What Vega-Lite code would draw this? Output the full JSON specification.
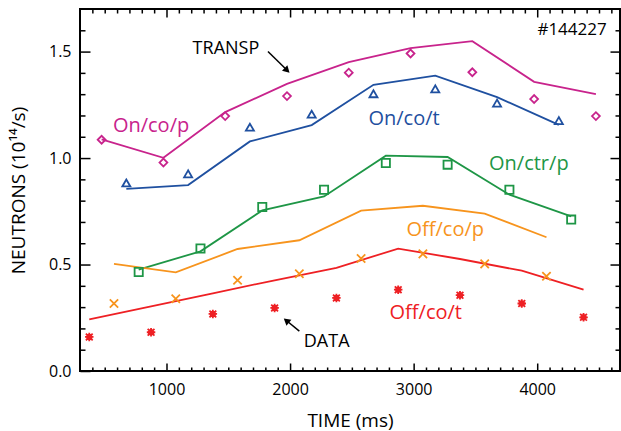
{
  "$schema": "https://vega.github.io/schema/vega-lite/v6.json",
  "width": 540,
  "height": 362,
  "autosize": "none",
  "padding": {"left": 80, "top": 9, "right": 1, "bottom": 60},
  "background": "white",
  "config": {
    "view": {"stroke": "black", "strokeWidth": 2},
    "font": "Open Sans",
    "axis": {
      "labelFont": "Open Sans", "labelFontSize": 16, "labelColor": "black",
      "titleFont": "Open Sans", "titleFontSize": 19, "titleFontWeight": "normal", "titleColor": "black",
      "domain": false, "grid": false, "ticks": true, "tickRound": false, "tickColor": "black", "tickWidth": 1.5
    }
  },
  "datasets": {
    "transp": [
      {"series": "On/co/p", "time": 475, "n": 1.088}, {"series": "On/co/p", "time": 975, "n": 1.001}, {"series": "On/co/p", "time": 1475, "n": 1.216}, {"series": "On/co/p", "time": 1975, "n": 1.348}, {"series": "On/co/p", "time": 2475, "n": 1.450}, {"series": "On/co/p", "time": 2975, "n": 1.516}, {"series": "On/co/p", "time": 3475, "n": 1.549}, {"series": "On/co/p", "time": 3975, "n": 1.358}, {"series": "On/co/p", "time": 4475, "n": 1.300},
      {"series": "On/co/t", "time": 675, "n": 0.855}, {"series": "On/co/t", "time": 1175, "n": 0.873}, {"series": "On/co/t", "time": 1675, "n": 1.078}, {"series": "On/co/t", "time": 2175, "n": 1.155}, {"series": "On/co/t", "time": 2675, "n": 1.344}, {"series": "On/co/t", "time": 3175, "n": 1.387}, {"series": "On/co/t", "time": 3675, "n": 1.286}, {"series": "On/co/t", "time": 4175, "n": 1.156},
      {"series": "On/ctr/p", "time": 775, "n": 0.476}, {"series": "On/ctr/p", "time": 1275, "n": 0.562}, {"series": "On/ctr/p", "time": 1775, "n": 0.754}, {"series": "On/ctr/p", "time": 2275, "n": 0.820}, {"series": "On/ctr/p", "time": 2775, "n": 1.011}, {"series": "On/ctr/p", "time": 3275, "n": 1.005}, {"series": "On/ctr/p", "time": 3775, "n": 0.828}, {"series": "On/ctr/p", "time": 4275, "n": 0.726},
      {"series": "Off/co/p", "time": 575, "n": 0.503}, {"series": "Off/co/p", "time": 1075, "n": 0.463}, {"series": "Off/co/p", "time": 1575, "n": 0.573}, {"series": "Off/co/p", "time": 2075, "n": 0.614}, {"series": "Off/co/p", "time": 2575, "n": 0.753}, {"series": "Off/co/p", "time": 3075, "n": 0.776}, {"series": "Off/co/p", "time": 3575, "n": 0.739}, {"series": "Off/co/p", "time": 4075, "n": 0.628},
      {"series": "Off/co/t", "time": 375, "n": 0.242}, {"series": "Off/co/t", "time": 875, "n": 0.303}, {"series": "Off/co/t", "time": 1375, "n": 0.365}, {"series": "Off/co/t", "time": 1875, "n": 0.426}, {"series": "Off/co/t", "time": 2375, "n": 0.484}, {"series": "Off/co/t", "time": 2875, "n": 0.575}, {"series": "Off/co/t", "time": 3375, "n": 0.526}, {"series": "Off/co/t", "time": 3875, "n": 0.471}, {"series": "Off/co/t", "time": 4375, "n": 0.382}
    ],
    "measured": [
      {"series": "On/co/p", "time": 475, "n": 1.086}, {"series": "On/co/p", "time": 975, "n": 0.979}, {"series": "On/co/p", "time": 1475, "n": 1.197}, {"series": "On/co/p", "time": 1975, "n": 1.291}, {"series": "On/co/p", "time": 2475, "n": 1.401}, {"series": "On/co/p", "time": 2975, "n": 1.491}, {"series": "On/co/p", "time": 3475, "n": 1.403}, {"series": "On/co/p", "time": 3975, "n": 1.277}, {"series": "On/co/p", "time": 4475, "n": 1.197},
      {"series": "On/co/t", "time": 675, "n": 0.883}, {"series": "On/co/t", "time": 1175, "n": 0.926}, {"series": "On/co/t", "time": 1675, "n": 1.145}, {"series": "On/co/t", "time": 2175, "n": 1.206}, {"series": "On/co/t", "time": 2675, "n": 1.302}, {"series": "On/co/t", "time": 3175, "n": 1.325}, {"series": "On/co/t", "time": 3675, "n": 1.258}, {"series": "On/co/t", "time": 4175, "n": 1.176},
      {"series": "On/ctr/p", "time": 775, "n": 0.465}, {"series": "On/ctr/p", "time": 1275, "n": 0.575}, {"series": "On/ctr/p", "time": 1775, "n": 0.770}, {"series": "On/ctr/p", "time": 2275, "n": 0.851}, {"series": "On/ctr/p", "time": 2775, "n": 0.977}, {"series": "On/ctr/p", "time": 3275, "n": 0.969}, {"series": "On/ctr/p", "time": 3775, "n": 0.851}, {"series": "On/ctr/p", "time": 4275, "n": 0.711},
      {"series": "Off/co/p", "time": 575, "n": 0.317}, {"series": "Off/co/p", "time": 1075, "n": 0.339}, {"series": "Off/co/p", "time": 1575, "n": 0.426}, {"series": "Off/co/p", "time": 2075, "n": 0.457}, {"series": "Off/co/p", "time": 2575, "n": 0.528}, {"series": "Off/co/p", "time": 3075, "n": 0.550}, {"series": "Off/co/p", "time": 3575, "n": 0.503}, {"series": "Off/co/p", "time": 4075, "n": 0.445},
      {"series": "Off/co/t", "time": 375, "n": 0.160}, {"series": "Off/co/t", "time": 875, "n": 0.182}, {"series": "Off/co/t", "time": 1375, "n": 0.268}, {"series": "Off/co/t", "time": 1875, "n": 0.296}, {"series": "Off/co/t", "time": 2375, "n": 0.343}, {"series": "Off/co/t", "time": 2875, "n": 0.382}, {"series": "Off/co/t", "time": 3375, "n": 0.356}, {"series": "Off/co/t", "time": 3875, "n": 0.317}, {"series": "Off/co/t", "time": 4375, "n": 0.252}
    ],
    "labels": [
      {"series": "On/co/p", "time": 875, "n": 1.122},
      {"series": "On/co/t", "time": 2922, "n": 1.156},
      {"series": "On/ctr/p", "time": 3932, "n": 0.945},
      {"series": "Off/co/p", "time": 3256, "n": 0.632},
      {"series": "Off/co/t", "time": 3098, "n": 0.242}
    ],
    "notes": [
      {"text": "TRANSP", "time": 1481, "n": 1.489, "fs": 18},
      {"text": "#144227", "time": 4282, "n": 1.578, "fs": 17},
      {"text": "DATA", "time": 2296, "n": 0.112, "fs": 18}
    ],
    "arrows": [
      {"t1": 1821, "n1": 1.500, "t2": 1976, "n2": 1.412, "angle": 44},
      {"t1": 2075, "n1": 0.187, "t2": 1970, "n2": 0.237, "angle": 220}
    ]
  },
  "resolve": {"axis": {"x": "independent", "y": "independent"}},
  "layer": [
    {
      "data": {"name": "transp"},
      "mark": {"type": "line", "strokeWidth": 1.8},
      "encoding": {
        "x": {"field": "time", "type": "quantitative", "scale": {"domain": [300, 4670], "nice": false, "zero": false},
          "axis": {"orient": "bottom", "title": "TIME (ms)", "values": [1000, 2000, 3000, 4000],
            "format": "d", "tickSize": 8, "offset": -8, "labelPadding": 10, "titlePadding": 14}},
        "y": {"field": "n", "type": "quantitative", "scale": {"domain": [0, 1.7], "nice": false},
          "axis": {"orient": "left", "title": "NEUTRONS (10¹⁴/s)", "values": [0, 0.5, 1.0, 1.5],
            "format": ".1f", "tickSize": 10, "offset": -10, "labelPadding": 9, "titlePadding": 20}},
        "color": {"field": "series", "type": "nominal", "legend": null,
          "scale": {"domain": ["On/co/p", "On/co/t", "On/ctr/p", "Off/co/p", "Off/co/t"], "range": ["#c8238c", "#1f50a0", "#1e9646", "#f7941d", "#ee2024"]}},
        "order": {"field": "time", "type": "quantitative"}
      }
    },
    {
      "data": {"name": "measured"},
      "mark": {"type": "point", "filled": false, "opacity": 1},
      "encoding": {
        "x": {"field": "time", "type": "quantitative",
          "axis": {"orient": "top", "title": null, "labels": false, "values": [1000, 2000, 3000, 4000], "tickSize": 8, "offset": -8}},
        "y": {"field": "n", "type": "quantitative",
          "axis": {"orient": "right", "title": null, "labels": false, "values": [0.5, 1.0, 1.5], "tickSize": 10, "offset": -10}},
        "color": {"field": "series", "type": "nominal", "legend": null},
        "shape": {"field": "series", "type": "nominal", "legend": null,
          "scale": {"domain": ["On/co/p", "On/co/t", "On/ctr/p", "Off/co/p", "Off/co/t"], "range": ["diamond", "triangle-up", "square", "M-1,-1L1,1M-1,1L1,-1", "M-1,0L1,0M0,-1L0,1M-0.8,-0.8L0.8,0.8M-0.8,0.8L0.8,-0.8M-0.5,-0.5L0.5,-0.5L0.5,0.5L-0.5,0.5Z"]}},
        "strokeWidth": {"field": "series", "type": "nominal", "legend": null,
          "scale": {"domain": ["On/co/p", "On/co/t", "On/ctr/p", "Off/co/p", "Off/co/t"], "range": [1.8, 1.8, 1.8, 1.8, 2.4]}},
        "size": {"field": "series", "type": "nominal", "legend": null,
          "scale": {"domain": ["On/co/p", "On/co/t", "On/ctr/p", "Off/co/p", "Off/co/t"], "range": [62, 72, 60, 72, 80]}}
      }
    },
    {
      "data": {"name": "labels"},
      "mark": {"type": "text", "fontSize": 20, "font": "Open Sans", "align": "center", "baseline": "alphabetic"},
      "encoding": {
        "x": {"field": "time", "type": "quantitative",
          "axis": {"orient": "bottom", "title": null, "labels": false, "values": [400,500,600,700,800,900,1100,1200,1300,1400,1500,1600,1700,1800,1900,2100,2200,2300,2400,2500,2600,2700,2800,2900,3100,3200,3300,3400,3500,3600,3700,3800,3900,4100,4200,4300,4400,4500,4600], "tickSize": 4, "offset": -4}},
        "y": {"field": "n", "type": "quantitative",
          "axis": {"orient": "left", "title": null, "labels": false, "values": [0.1, 0.2, 0.3, 0.4, 0.6, 0.7, 0.8, 0.9, 1.1, 1.2, 1.3, 1.4, 1.6], "tickSize": 5, "offset": -5}},
        "text": {"field": "series"},
        "color": {"field": "series", "type": "nominal", "legend": null}
      }
    },
    {
      "data": {"name": "notes"},
      "mark": {"type": "text", "font": "Open Sans", "align": "center", "baseline": "alphabetic", "color": "black"},
      "encoding": {
        "x": {"field": "time", "type": "quantitative",
          "axis": {"orient": "top", "title": null, "labels": false, "values": [400,500,600,700,800,900,1100,1200,1300,1400,1500,1600,1700,1800,1900,2100,2200,2300,2400,2500,2600,2700,2800,2900,3100,3200,3300,3400,3500,3600,3700,3800,3900,4100,4200,4300,4400,4500,4600], "tickSize": 4, "offset": -4}},
        "y": {"field": "n", "type": "quantitative",
          "axis": {"orient": "right", "title": null, "labels": false, "values": [0.1, 0.2, 0.3, 0.4, 0.6, 0.7, 0.8, 0.9, 1.1, 1.2, 1.3, 1.4, 1.6], "tickSize": 5, "offset": -5}},
        "text": {"field": "text"},
        "size": {"field": "fs", "type": "quantitative", "scale": null, "legend": null}
      }
    },
    {
      "data": {"name": "arrows"},
      "mark": {"type": "rule", "color": "black", "strokeWidth": 1.5},
      "encoding": {
        "x": {"field": "t1", "type": "quantitative", "axis": null},
        "y": {"field": "n1", "type": "quantitative", "axis": null},
        "x2": {"field": "t2"},
        "y2": {"field": "n2"}
      }
    },
    {
      "data": {"name": "arrows"},
      "mark": {"type": "point", "shape": "triangle-right", "filled": true, "color": "black", "size": 60, "opacity": 1},
      "encoding": {
        "x": {"field": "t2", "type": "quantitative", "axis": null},
        "y": {"field": "n2", "type": "quantitative", "axis": null},
        "angle": {"field": "angle", "type": "quantitative", "scale": null}
      }
    }
  ]
}
